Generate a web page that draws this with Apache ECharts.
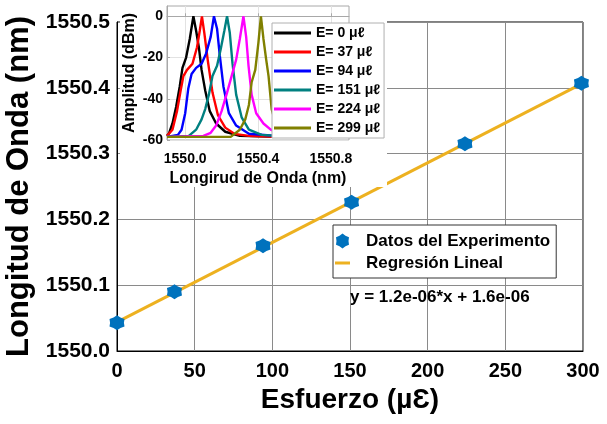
<!DOCTYPE html>
<html>
<head>
<meta charset="utf-8">
<script src="https://cdn.jsdelivr.net/npm/echarts@6/dist/echarts.min.js"></script>
<style>
  html, body { margin: 0; padding: 0; background: #fff; }
  #main { width: 607px; height: 424px; }
</style>
</head>
<body>
<div id="main"></div>
<script>
// 主图：应变 - 中心波长
var strain = [0, 37, 94, 151, 224, 299];
var wavelength = [1550.043, 1550.090, 1550.160, 1550.226, 1550.315, 1550.407];
// 线性回归线两端
var fitX = [0, 299];
var fitY = [1550.044, 1550.406];

// 小图：光谱
var insetNames = ['E= 0 μℓ', 'E= 37 μℓ', 'E= 94 μℓ', 'E= 151 μℓ', 'E= 224 μℓ', 'E= 299 μℓ'];
var insetXTicks = [1550.0, 1550.4, 1550.8];
var insetYTicks = [-60, -40, -20, 0];
var spec0 = [[1549.9,-58],[1549.91,-57],[1549.93,-52],[1549.95,-44],[1549.97,-34],[1549.985,-25],[1550.005,-20],[1550.025,-11],[1550.045,0],[1550.06,-7],[1550.075,-15],[1550.09,-26],[1550.11,-36],[1550.135,-46],[1550.17,-52],[1550.22,-56],[1550.3,-58],[1550.5,-58.5]];
var spec37 = [[1549.9,-58],[1549.93,-55],[1549.955,-46],[1549.975,-36],[1549.99,-29],[1550.01,-26],[1550.04,-23],[1550.065,-15],[1550.08,-7],[1550.092,0],[1550.105,-8],[1550.125,-22],[1550.15,-37],[1550.18,-48],[1550.22,-54],[1550.27,-57],[1550.35,-58],[1550.5,-58.5]];
var spec94 = [[1549.9,-58.5],[1549.96,-57.5],[1549.98,-55],[1550.0,-47],[1550.017,-35],[1550.035,-28],[1550.06,-25],[1550.09,-23],[1550.115,-18],[1550.14,-10],[1550.158,0],[1550.175,-6],[1550.19,-19],[1550.21,-34],[1550.24,-47],[1550.28,-53],[1550.35,-57],[1550.5,-58]];
var spec151 = [[1549.9,-58.5],[1550.02,-58],[1550.06,-55],[1550.09,-50],[1550.11,-45],[1550.13,-38],[1550.15,-29],[1550.175,-24],[1550.195,-16],[1550.215,-7],[1550.23,0],[1550.245,-8],[1550.26,-23],[1550.28,-38],[1550.31,-49],[1550.35,-55],[1550.42,-57.5],[1550.5,-58]];
var spec224 = [[1549.9,-58.5],[1550.1,-58],[1550.14,-56.5],[1550.17,-53],[1550.2,-46],[1550.23,-37],[1550.255,-29],[1550.28,-21],[1550.3,-11],[1550.32,0],[1550.335,-10],[1550.348,-24],[1550.365,-38],[1550.39,-47],[1550.43,-52],[1550.47,-55],[1550.52,-57]];
var spec299 = [[1549.9,-58.5],[1550.25,-58.5],[1550.3,-55],[1550.33,-50],[1550.35,-43],[1550.365,-32],[1550.385,-26],[1550.402,-13],[1550.416,0],[1550.43,-11],[1550.445,-21],[1550.458,-29],[1550.475,-45],[1550.5,-53],[1550.55,-57]];
var spectra = [spec0, spec37, spec94, spec151, spec224, spec299];

(function () {
    var font = 'Liberation Sans, Arial, sans-serif';
    var insetColors = ['#000000', '#ff0000', '#0000ff', '#008080', '#ff00ff', '#808000'];
    // 六角星标记
    var hexStar = 'path://M50 0 L70 15.4 L93.3 25 L90 50 L93.3 75 L70 84.6 L50 100 L30 84.6 L6.7 75 L10 50 L6.7 25 L30 15.4 Z';
    // 图例里的细线（上下各留空白点撑开包围盒）
    var thinLine = 'path://M0 0 L0.01 0 Z M0 40 H100 V60 H0 Z M100 100 L99.99 100 Z';

    var myChart = echarts.init(document.getElementById('main'), null, { renderer: 'canvas' });

    var insetSeries = spectra.map(function (d, i) {
        return {
            name: insetNames[i],
            type: 'line',
            xAxisIndex: 1,
            yAxisIndex: 1,
            data: d,
            symbol: 'none',
            z: 6,
            color: insetColors[i],
            lineStyle: { width: 2.4, color: insetColors[i] }
        };
    });

    var option = {
        animation: false,
        textStyle: { fontFamily: font },
        grid: [{
            left: 117, right: 24, top: 22, bottom: 73,
            outerBoundsMode: 'none', containLabel: false,
            show: true, borderColor: '#000', borderWidth: 1
        }, {
            left: 167, right: 258, top: 6, bottom: 284,
            outerBoundsMode: 'none', containLabel: false,
            show: true, backgroundColor: '#fff', borderColor: '#a8a8a8', borderWidth: 1, z: 4
        }],
        xAxis: [{
            type: 'value', gridIndex: 0,
            min: 0, max: 300, interval: 50,
            axisLine: { lineStyle: { color: '#000' } },
            axisTick: { show: false },
            axisLabel: { color: '#000', fontSize: 20, fontWeight: 'bold', margin: 10 },
            splitLine: { lineStyle: { color: '#8a8a8a' } },
            name: 'Esfuerzo (µƐ)', nameLocation: 'middle', nameGap: 33,
            nameTextStyle: { color: '#000', fontSize: 28, fontWeight: 'bold' }
        }, {
            type: 'value', gridIndex: 1, z: 5,
            min: 1549.9, max: 1550.9,
            axisLine: { lineStyle: { color: '#a8a8a8' } },
            axisTick: { inside: true, length: 3, customValues: insetXTicks, lineStyle: { color: '#a8a8a8' } },
            axisLabel: {
                customValues: insetXTicks, color: '#000', fontSize: 14, fontWeight: 'bold', margin: 12,
                formatter: function (v) { return v.toFixed(1); }
            },
            splitLine: { lineStyle: { color: '#e2e2e2' } },
            name: 'Longirud de Onda (nm)', nameLocation: 'middle', nameGap: 31,
            nameTextStyle: { color: '#000', fontSize: 16, fontWeight: 'bold' }
        }],
        yAxis: [{
            type: 'value', gridIndex: 0,
            min: 1550.0, max: 1550.5, interval: 0.1,
            axisLine: { show: true, lineStyle: { color: '#000' } },
            axisTick: { show: false },
            axisLabel: {
                color: '#000', fontSize: 21, fontWeight: 'bold', margin: 7,
                formatter: function (v) { return v.toFixed(1); }
            },
            splitLine: { lineStyle: { color: '#8a8a8a' } },
            name: 'Longitud de Onda (nm)', nameLocation: 'middle', nameGap: 76,
            nameTextStyle: { color: '#000', fontSize: 31, fontWeight: 'bold' }
        }, {
            type: 'value', gridIndex: 1, z: 5,
            min: -60, max: 5,
            axisLine: { show: true, lineStyle: { color: '#a8a8a8' } },
            axisTick: { show: true, inside: true, length: 3, customValues: insetYTicks, lineStyle: { color: '#a8a8a8' } },
            axisLabel: { customValues: insetYTicks, color: '#000', fontSize: 14, fontWeight: 'bold', margin: 4 },
            splitLine: { lineStyle: { color: '#e2e2e2' } },
            name: 'Amplitud (dBm)', nameLocation: 'middle', nameGap: 29,
            nameTextStyle: { color: '#000', fontSize: 16, fontWeight: 'bold' }
        }],
        legend: [{
            data: [
                { name: 'Datos del Experimento' },
                { name: 'Regresión Lineal', icon: thinLine }
            ],
            orient: 'vertical', left: 333, top: 225,
            itemWidth: 37, itemHeight: 15, itemGap: 2,
            padding: [6, 6, 5, 2],
            backgroundColor: '#fff', borderColor: '#333', borderWidth: 1,
            selectedMode: false, z: 10,
            textStyle: { color: '#000', fontSize: 17, fontWeight: 'bold', lineHeight: 20 }
        }, {
            data: insetNames,
            orient: 'vertical', left: 272, top: 23,
            icon: 'rect', itemWidth: 37, itemHeight: 3, itemGap: 3,
            padding: [2, 4, 2, 2],
            backgroundColor: '#fff', borderColor: '#b0b0b0', borderWidth: 1,
            selectedMode: false, z: 10,
            textStyle: { color: '#000', fontSize: 14, fontWeight: 'bold', lineHeight: 16 }
        }],
        graphic: {
            elements: [{
                // 小图白底
                type: 'rect', z: 3, silent: true,
                shape: { x: 120, y: 0, width: 267, height: 187 },
                style: { fill: '#fff' }
            }, {
                type: 'text', z: 10, left: 350, top: 289,
                style: { text: 'y = 1.2e-06*x + 1.6e-06', fill: '#000', font: 'bold 17px ' + font }
            }]
        },
        series: [{
            name: 'Datos del Experimento',
            type: 'scatter',
            data: strain.map(function (x, i) { return [x, wavelength[i]]; }),
            symbol: hexStar,
            symbolSize: 15,
            itemStyle: { color: '#0072BD', opacity: 1 },
            z: 2
        }, {
            name: 'Regresión Lineal',
            type: 'line',
            data: fitX.map(function (x, i) { return [x, fitY[i]]; }),
            symbol: 'none',
            color: '#EDB120',
            lineStyle: { width: 3, color: '#EDB120' },
            z: 2
        }].concat(insetSeries)
    };
    myChart.setOption(option);
})();
</script>
</body>
</html>
